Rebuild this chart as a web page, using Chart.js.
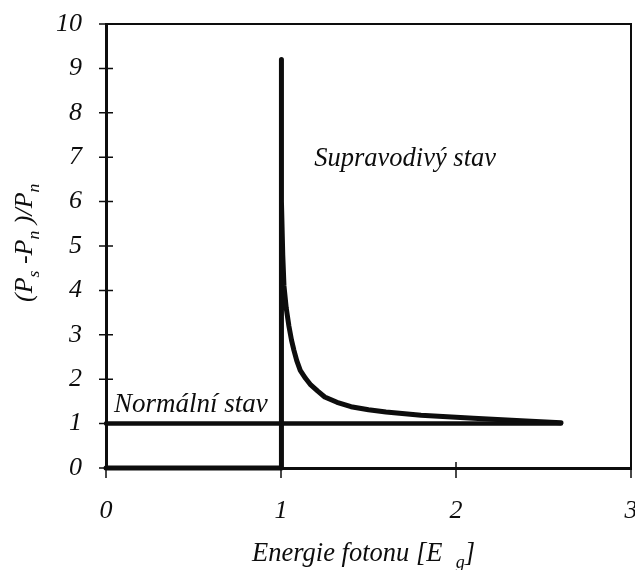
<!DOCTYPE html>
<html>
<head>
<meta charset="utf-8">
<script src="https://cdn.jsdelivr.net/npm/chart.js@4"></script>
<style>
  html, body { margin: 0; padding: 0; background: #fff; }
  #wrap { width: 635px; height: 570px; position: relative; }
</style>
</head>
<body>
<div id="wrap"><canvas id="chart"></canvas></div>
<script>
// values
const supraX = [0, 1, 1, 1.005, 1.01, 1.017, 1.03, 1.045, 1.06, 1.074, 1.09, 1.11, 1.14, 1.17, 1.21, 1.25, 1.32, 1.4, 1.5, 1.6, 1.8, 2.1, 2.4, 2.6];
const supraY = [0, 0, 9.2, 6.0, 4.8, 4.1, 3.6, 3.2, 2.88, 2.65, 2.42, 2.2, 2.02, 1.87, 1.73, 1.6, 1.48, 1.38, 1.31, 1.26, 1.19, 1.12, 1.06, 1.02];
const normalX = [0, 2.6];
const normalY = [1, 1];
const xTicks = [0, 1, 2, 3];
const yTicks = [0, 1, 2, 3, 4, 5, 6, 7, 8, 9, 10];

const FONT = "'Liberation Serif', 'Times New Roman', serif";
const INK = "#0d0d0d";

function toPoints(xs, ys) {
  return xs.map((x, i) => ({ x: x, y: ys[i] }));
}

// draws a string with subscript pieces at (x, y) baseline
function drawRich(ctx, parts, x, y, size) {
  let pos = x;
  parts.forEach((p) => {
    const s = p.sub ? size * 0.68 : size;
    ctx.font = `italic ${s}px ${FONT}`;
    ctx.fillText(p.t, pos, y + (p.sub ? size * 0.26 : 0));
    pos += ctx.measureText(p.t).width;
  });
}

// keep the plot box where the reference has it
function noEdgePadding(scale) {
  scale.paddingLeft = 0;
  scale.paddingRight = 0;
  scale.paddingTop = 0;
  scale.paddingBottom = 0;
}

const framePlugin = {
  id: "frame",
  afterDraw(chart) {
    const ctx = chart.ctx;
    const a = chart.chartArea;
    const xs = chart.scales.x;
    const ys = chart.scales.y;

    ctx.save();
    ctx.strokeStyle = INK;
    ctx.lineWidth = 2;
    ctx.beginPath();
    ctx.moveTo(a.left, a.top);
    ctx.lineTo(a.right, a.top);
    ctx.lineTo(a.right, a.bottom);
    ctx.stroke();

    // tick marks crossing the axes
    ctx.lineWidth = 1.5;
    ctx.beginPath();
    yTicks.forEach((v) => {
      const py = ys.getPixelForValue(v);
      ctx.moveTo(a.left - 7, py);
      ctx.lineTo(a.left + 7, py);
    });
    xTicks.forEach((v) => {
      const px = xs.getPixelForValue(v);
      ctx.moveTo(px, a.bottom - 6);
      ctx.lineTo(px, a.bottom + 10);
    });
    ctx.stroke();

    ctx.fillStyle = INK;
    ctx.textBaseline = "alphabetic";
    ctx.textAlign = "left";

    // curve labels
    ctx.font = `italic 26.5px ${FONT}`;
    ctx.fillText("Supravodivý stav", xs.getPixelForValue(1.19), ys.getPixelForValue(6.8));
    ctx.font = `italic 27px ${FONT}`;
    ctx.fillText("Normální stav", xs.getPixelForValue(0.045), ys.getPixelForValue(1.27));

    // x axis title
    drawRich(ctx, [
      { t: "Energie fotonu [E" },
      { t: "  " },
      { t: "g", sub: true },
      { t: "]" },
    ], 252, 561, 26.5);

    // y axis title
    ctx.translate(32, 302);
    ctx.rotate(-Math.PI / 2);
    drawRich(ctx, [
      { t: "(P" },
      { t: "s", sub: true },
      { t: " -P" },
      { t: "n", sub: true },
      { t: " )/P" },
      { t: "n", sub: true },
    ], 0, 0, 26);
    ctx.restore();
  },
};

new Chart(document.getElementById("chart"), {
  type: "scatter",
  data: {
    datasets: [
      {
        label: "Normální stav",
        data: toPoints(normalX, normalY),
        showLine: true,
        borderColor: INK,
        borderWidth: 4.5,
        pointRadius: 0,
        borderCapStyle: "round",
        clip: 6,
      },
      {
        label: "Supravodivý stav",
        data: toPoints(supraX, supraY),
        showLine: true,
        borderColor: INK,
        borderWidth: 5,
        pointRadius: 0,
        tension: 0,
        borderCapStyle: "round",
        borderJoinStyle: "round",
        clip: 6,
      },
    ],
  },
  options: {
    responsive: true,
    maintainAspectRatio: false,
    animation: false,
    layout: { padding: { top: 24, right: 4, left: 0, bottom: 0 } },
    plugins: {
      legend: { display: false },
      tooltip: { enabled: false },
    },
    scales: {
      x: {
        type: "linear",
        min: 0,
        max: 3,
        afterFit(scale) {
          scale.height = 102;
          noEdgePadding(scale);
        },
        afterBuildTicks(scale) { scale.ticks = xTicks.map((v) => ({ value: v })); },
        grid: { display: true, drawOnChartArea: false, drawTicks: false },
        border: { display: true, color: INK, width: 3 },
        ticks: {
          padding: 28,
          color: INK,
          font: { family: FONT, size: 26, style: "italic" },
        },
      },
      y: {
        type: "linear",
        min: 0,
        max: 10,
        afterFit(scale) {
          scale.width = 106;
          noEdgePadding(scale);
        },
        afterBuildTicks(scale) { scale.ticks = yTicks.map((v) => ({ value: v })); },
        grid: { display: true, drawOnChartArea: false, drawTicks: false },
        border: { display: true, color: INK, width: 3 },
        ticks: {
          padding: 24,
          color: INK,
          font: { family: FONT, size: 26, style: "italic" },
        },
      },
    },
  },
  plugins: [framePlugin],
});
</script>
</body>
</html>
